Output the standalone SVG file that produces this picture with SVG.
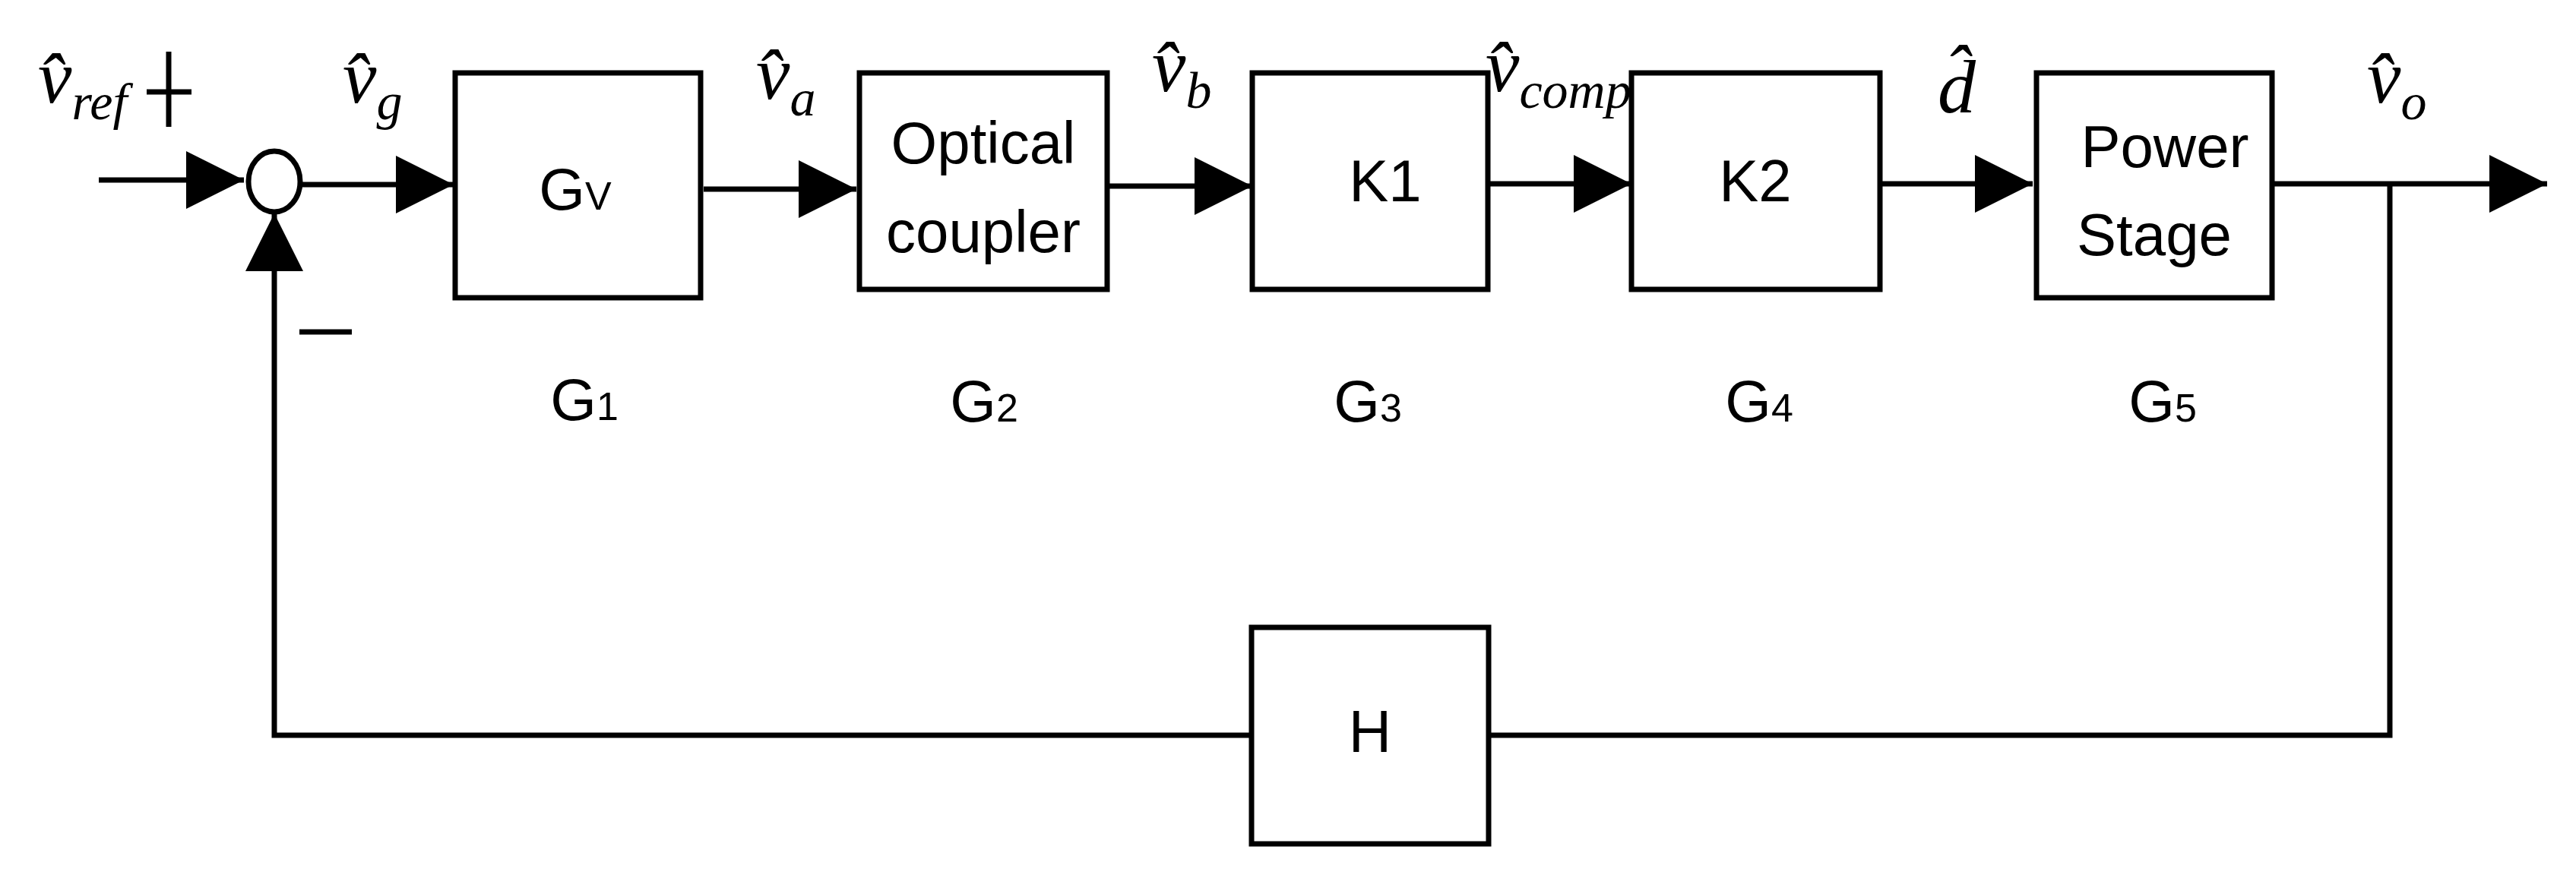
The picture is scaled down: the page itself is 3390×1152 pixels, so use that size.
<svg xmlns="http://www.w3.org/2000/svg" width="3390" height="1152" viewBox="0 0 3390 1152">
<style>
.box{fill:#fff;stroke:#000;stroke-width:7}
.ln{fill:none;stroke:#000;stroke-width:7}
.t{font-family:"Liberation Sans",Arial,sans-serif;font-size:78px;fill:#000}
.s{font-size:52px}
.m{font-family:"Liberation Serif","Times New Roman",serif;font-style:italic;font-size:100px;fill:#000}
.ms{font-size:68px}
</style>
<defs>
<marker id="ah" viewBox="0 0 10 10" refX="10" refY="5" markerWidth="76" markerHeight="76" markerUnits="userSpaceOnUse" orient="auto"><path d="M0,0 L10,5 L0,10 z" fill="#000"/></marker>
</defs>
<rect width="3390" height="1152" fill="#fff"/>
<g id="connectors">
<path class="ln" d="M130,237 L321,237" marker-end="url(#ah)"/>
<path class="ln" d="M396,243 L597,243" marker-end="url(#ah)"/>
<path class="ln" d="M926,249 L1127,249" marker-end="url(#ah)"/>
<path class="ln" d="M1457,245 L1648,245" marker-end="url(#ah)"/>
<path class="ln" d="M1958,242 L2147,242" marker-end="url(#ah)"/>
<path class="ln" d="M2474,242 L2675,242" marker-end="url(#ah)"/>
<path class="ln" d="M2990,242 L3352,242" marker-end="url(#ah)"/>
<path class="ln" d="M3145,242 L3145,968 L1959,968"/>
<path class="ln" d="M1647,968 L361,968 L361,281" marker-end="url(#ah)"/>
<path class="ln" d="M222,68 V167 M193,121 H252 M394,437 H463"/>
</g>
<g id="sum"><ellipse cx="361" cy="239" rx="34" ry="40" fill="#fff" stroke="#000" stroke-width="7"/></g>
<g id="G1"><rect class="box" x="599" y="96" width="323" height="296"/><text class="t" x="757" y="276" text-anchor="middle">G<tspan class="s">V</tspan></text></g>
<g id="G2"><rect class="box" x="1131" y="96" width="326" height="285"/><text class="t" x="1294" y="215" text-anchor="middle">Optical</text><text class="t" x="1294" y="332" text-anchor="middle">coupler</text></g>
<g id="G3"><rect class="box" x="1648" y="96" width="310" height="285"/><text class="t" x="1823" y="265" text-anchor="middle">K1</text></g>
<g id="G4"><rect class="box" x="2147" y="96" width="327" height="285"/><text class="t" x="2310" y="265" text-anchor="middle">K2</text></g>
<g id="G5"><rect class="box" x="2680" y="96" width="310" height="296"/><text class="t" x="2849" y="220" text-anchor="middle">Power</text><text class="t" x="2835" y="336" text-anchor="middle">Stage</text></g>
<g id="H"><rect class="box" x="1647" y="826" width="312" height="285"/><text class="t" x="1803" y="990" text-anchor="middle">H</text></g>
<g id="labels">
<text class="m" x="50" y="135">v̂<tspan class="ms" dy="22">ref</tspan></text>
<text class="m" x="451" y="135">v̂<tspan class="ms" dy="22">g</tspan></text>
<text class="m" x="995" y="130">v̂<tspan class="ms" dy="22">a</tspan></text>
<text class="m" x="1516" y="120">v̂<tspan class="ms" dy="22">b</tspan></text>
<text class="m" x="1955" y="120">v̂<tspan class="ms" dy="22">comp</tspan></text>
<text class="m" x="2550" y="148">d̂</text>
<text class="m" x="3115" y="135">v̂<tspan class="ms" dy="22">o</tspan></text>
<text class="t" x="769" y="553" text-anchor="middle">G<tspan class="s">1</tspan></text>
<text class="t" x="1295" y="555" text-anchor="middle">G<tspan class="s">2</tspan></text>
<text class="t" x="1800" y="555" text-anchor="middle">G<tspan class="s">3</tspan></text>
<text class="t" x="2315" y="555" text-anchor="middle">G<tspan class="s">4</tspan></text>
<text class="t" x="2846" y="555" text-anchor="middle">G<tspan class="s">5</tspan></text>
</g>
</svg>
